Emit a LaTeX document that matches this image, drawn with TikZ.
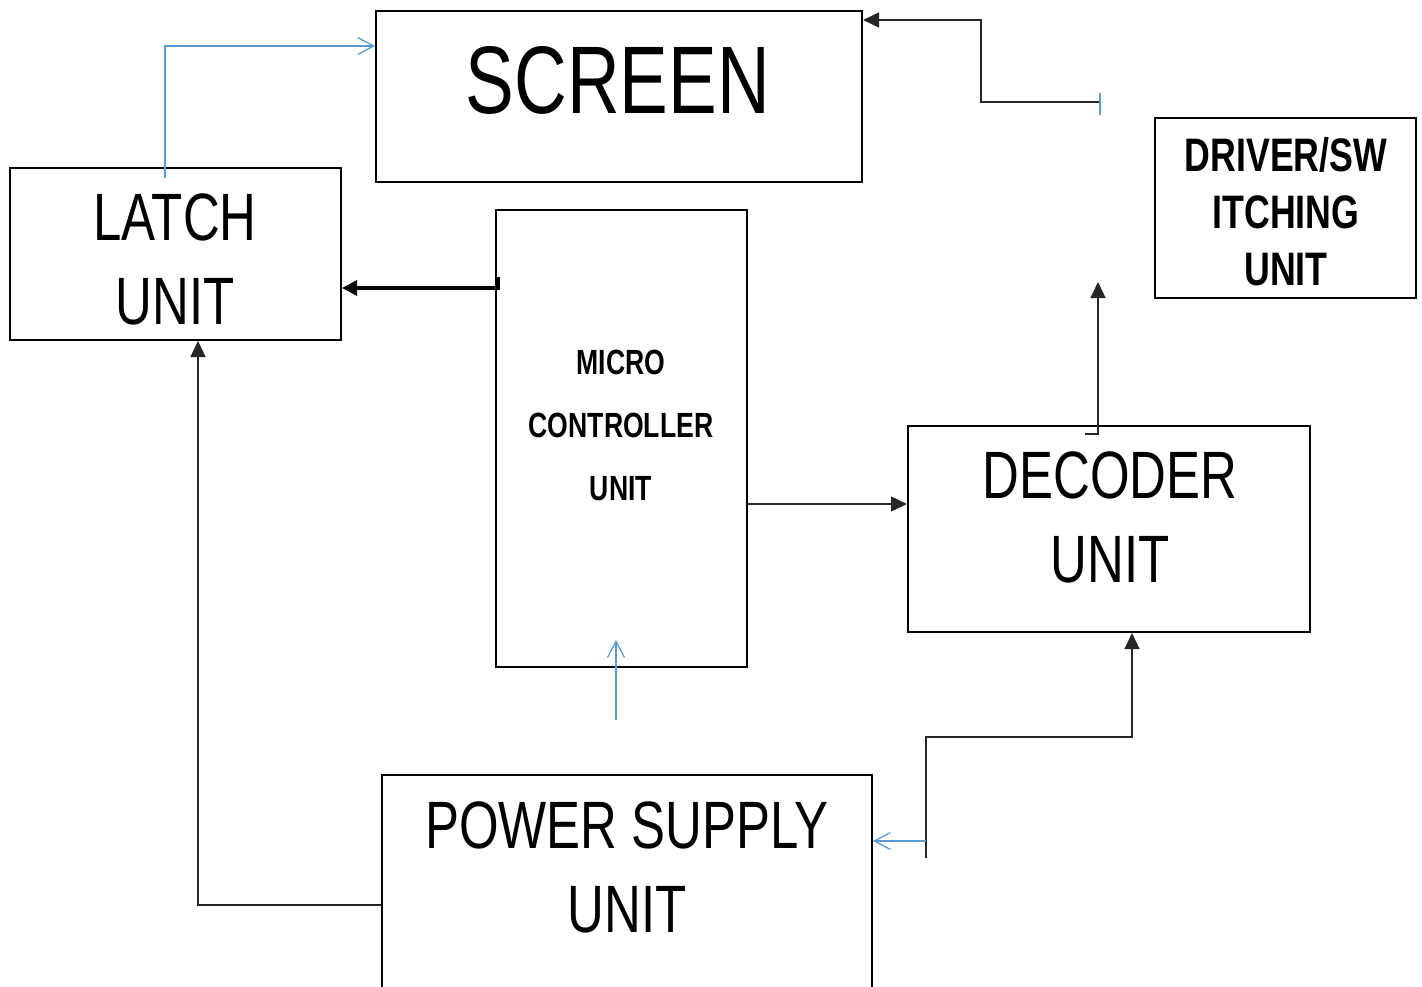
\documentclass[tikz,border=0pt]{standalone}
\usepackage{fontspec}
\setmainfont{Liberation Sans}[FakeStretch=0.76]
\usetikzlibrary{arrows.meta}
\definecolor{lineblue}{RGB}{91,155,213}
\tikzset{
  box/.style={draw=black, line width=2pt, inner sep=0pt},
  lbl/.style={inner sep=0pt, align=center},
  conn/.style={draw=black!85, line width=1.3pt, -{Triangle[length=16pt,width=15pt]}},
  plain/.style={draw=black!85, line width=1.3pt},
  bluearr/.style={draw=lineblue, line width=1.3pt, -{Straight Barb[length=16pt,width=17pt]}},
  blueline/.style={draw=lineblue, line width=1.3pt},
  bigfont/.style={font=\fontsize{67}{84}\selectfont},
}
\begin{document}
\begin{tikzpicture}[x=1pt,y=-1pt]
\useasboundingbox (0,0) rectangle (1422,987);
% boxes
\node[box, minimum width=486pt, minimum height=171pt] (screen) at (619,96.5) {};
\node[box, minimum width=331pt, minimum height=172pt] (latch) at (175.5,254) {};
\node[box, minimum width=251pt, minimum height=457pt] (mcu) at (621.5,438.5) {};
\node[box, minimum width=261pt, minimum height=180pt] (driver) at (1285.5,208) {};
\node[box, minimum width=402pt, minimum height=206pt] (decoder) at (1109,529) {};
\node[box, minimum width=490pt, minimum height=240pt] (power) at (627,895) {};
% labels
\node[lbl, font=\fontsize{96}{110}\selectfont] (screen-t) at (618,80) {SCREEN};
\node[lbl, bigfont] (latch-t) at (175,259) {LATCH\\UNIT};
\node[lbl, font=\fontsize{35}{63}\selectfont\bfseries] (mcu-t) at (621,425.5) {MICRO\\CONTROLLER\\UNIT};
\node[lbl, font=\fontsize{47}{57}\selectfont\bfseries] (driver-t) at (1286,211.5) {DRIVER/SW\\ITCHING\\UNIT};
\node[lbl, bigfont] (decoder-t) at (1110,517.5) {DECODER\\UNIT};
\node[lbl, bigfont] (power-t) at (627,867.5) {POWER SUPPLY\\UNIT};
% free ends
\coordinate (l1) at (165,178);
\coordinate (d1) at (1100,102);
\coordinate (dd) at (1085,434);
\coordinate (dtop) at (1098,282);
\coordinate (ps1) at (926,858);
\coordinate (mcuin) at (616,640);
\coordinate (mcusrc) at (616,720);
% connectors
\draw[bluearr] (l1) -- (165,46) -- (screen.west |- 0,46);
\draw[conn] (d1) -- (981,102) -- (981,20) -- (screen.east |- 0,20);
\draw[blueline] (1100,93) -- (1100,115);
\draw[draw=black, line width=3.5pt, -{Triangle[length=15pt,width=15pt]}] (mcu.west |- 0,288) -- (latch.east |- 0,288);
\draw[line width=3pt] (498,277) -- (498,290);
\draw[conn] (dd) -- (1098,434) -- (dtop);
\draw[conn] (mcu.east |- 0,504) -- (decoder.west |- 0,504);
\draw[conn] (ps1) -- (926,737) -- (1132,737) -- (1132,0 |- decoder.south);
\draw[bluearr] (926,841) -- (power.east |- 0,841);
\draw[bluearr] (mcusrc) -- (mcuin);
\draw[conn] (power.west |- 0,905) -- (198,905) -- (198,0 |- latch.south);
\end{tikzpicture}
\end{document}
